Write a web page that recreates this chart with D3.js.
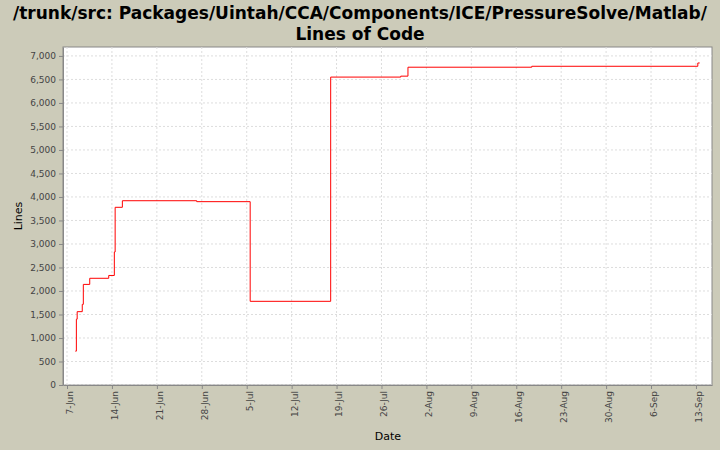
<!DOCTYPE html><html><head><meta charset="utf-8">
<script src="https://cdn.jsdelivr.net/npm/d3@7"></script>
<style>body{margin:0;background:#cccbb9}svg{display:block}</style></head><body>
<svg id="c" width="720" height="450"></svg>
<script>
const dates=["2007-06-08T07:00","2007-06-08T11:00","2007-06-08T14:00","2007-06-09T09:00","2007-06-09T13:00","2007-06-10T13:00","2007-06-13T12:00","2007-06-14T09:00","2007-06-14T12:00","2007-06-15T15:00","2007-06-27T05:00","2007-07-05T13:00","2007-07-18T02:00","2007-07-29T00:00","2007-07-30T03:00","2007-08-18T10:00","2007-09-13T07:00","2007-09-13T14:00"];
const lines=[720,1400,1560,1715,2140,2270,2330,2830,3780,3920,3900,1780,6550,6570,6760,6780,6850,6850];
const yTicks=d3.range(0,7001,500);
const xTickLabels=["7-Jun","14-Jun","21-Jun","28-Jun","5-Jul","12-Jul","19-Jul","26-Jul","2-Aug","9-Aug","16-Aug","23-Aug","30-Aug","6-Sep","13-Sep"];
const svg=d3.select("#c"),L=63,R=712,T=47,B=385;
const pt=d3.timeParse("%Y-%m-%dT%H:%M");
const x=d3.scaleTime().domain([pt("2007-06-06T09:00"),pt("2007-09-15T12:00")]).range([L,R]);
const y=d3.scaleLinear().domain([0,7190]).range([B,T]);
const tickDates=xTickLabels.map(s=>d3.timeParse("%d-%b-%Y")(s+"-2007"));
svg.append("rect").attr("x",L).attr("y",T).attr("width",R-L).attr("height",B-T).attr("fill","#fff").attr("stroke","#888");
const g=svg.append("g");
yTicks.forEach(v=>g.append("line").attr("x1",L).attr("x2",R).attr("y1",y(v)).attr("y2",y(v)).attr("stroke","#ddd").attr("stroke-dasharray","2,2"));
tickDates.forEach(d=>g.append("line").attr("y1",T).attr("y2",B).attr("x1",x(d)).attr("x2",x(d)).attr("stroke","#ddd").attr("stroke-dasharray","2,2"));
const ya=svg.append("g").attr("transform",`translate(${L},0)`).call(d3.axisLeft(y).tickValues(yTicks).tickFormat(d3.format(",")).tickSize(4).tickSizeOuter(0));
const xa=svg.append("g").attr("transform",`translate(0,${B})`).call(d3.axisBottom(x).tickValues(tickDates).tickFormat((d,i)=>xTickLabels[i]).tickSize(4).tickSizeOuter(0));
[ya,xa].forEach(a=>{a.selectAll("text").attr("font-family","DejaVu Sans").attr("font-size",9).attr("fill","#444");a.selectAll("line,path").attr("stroke","#888");});
xa.selectAll("text").attr("transform","rotate(-90)").attr("text-anchor","end").attr("dx",-6).attr("dy",-3).attr("x",0).attr("y",0).style("dominant-baseline","middle");
xa.selectAll("text").attr("dy","0.32em").attr("dx",-6);
const data=dates.map((d,i)=>[pt(d),lines[i]]);
svg.append("path").datum(data).attr("fill","none").attr("stroke","#f00").attr("stroke-width",1)
 .attr("d",d3.line().curve(d3.curveStepAfter).x(d=>x(d[0])).y(d=>y(d[1])));
const t=svg.append("text").attr("text-anchor","middle").attr("font-family","DejaVu Sans").attr("font-weight","bold").attr("font-size",17).attr("fill","#000");
t.append("tspan").attr("x",360).attr("y",19).text("/trunk/src: Packages/Uintah/CCA/Components/ICE/PressureSolve/Matlab/");
t.append("tspan").attr("x",360).attr("y",40).text("Lines of Code");
svg.append("text").attr("x",388).attr("y",440).attr("text-anchor","middle").attr("font-family","DejaVu Sans").attr("font-size",11).text("Date");
svg.append("text").attr("transform","translate(22,216) rotate(-90)").attr("text-anchor","middle").attr("font-family","DejaVu Sans").attr("font-size",11).text("Lines");
</script></body></html>
